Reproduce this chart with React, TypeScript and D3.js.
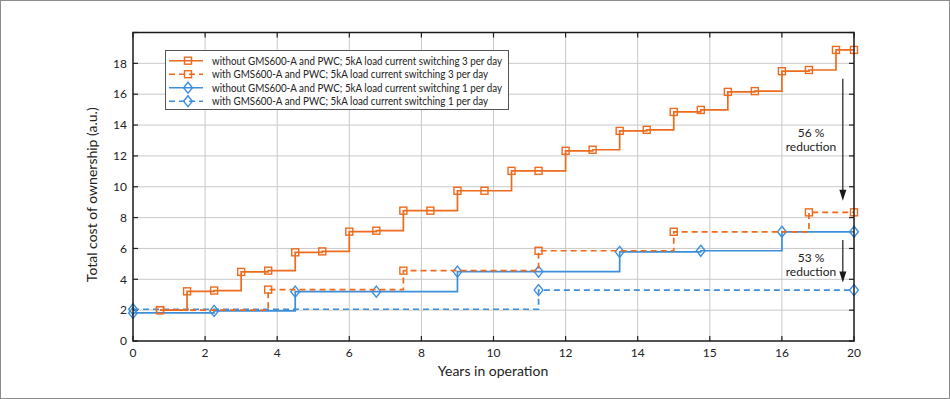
import React, { useRef, useEffect } from 'react';
import * as d3 from 'd3';

// x in years, y in a.u.
const orangeSolidX = [0.75, 1.5, 2.25, 3, 3.75, 4.5, 5.25, 6, 6.75, 7.5, 8.25, 9, 9.75, 10.5, 11.25, 12, 12.75, 13.5, 14.25, 15, 15.75, 16.5, 17.25, 18, 18.75, 19.5, 20];
const orangeSolidY = [2.0, 3.22, 3.27, 4.48, 4.56, 5.75, 5.81, 7.09, 7.15, 8.45, 8.45, 9.74, 9.74, 11.03, 11.03, 12.33, 12.4, 13.62, 13.69, 14.85, 14.98, 16.15, 16.2, 17.49, 17.57, 18.87, 18.87];

const orangeDashX = [0.75, 3.75, 7.5, 11.25, 15, 18.75, 20];
const orangeDashY = [2.0, 3.33, 4.56, 5.85, 7.08, 8.34, 8.34];

const blueSolidX = [0, 2.25, 4.5, 6.75, 9, 11.25, 13.5, 15.75, 18, 20];
const blueSolidY = [1.82, 1.95, 3.2, 3.2, 4.5, 4.5, 5.78, 5.85, 7.08, 7.08];

const blueDashX = [0, 11.25, 20];
const blueDashY = [2.06, 3.3, 3.3];

const xTickValues = [0, 2, 4, 6, 8, 10, 12, 14, 16, 18, 20];
const xTickLabels = ['0', '2', '4', '6', '8', '10', '12', '14', '15', '16', '20'];
const yTickValues = [0, 2, 4, 6, 8, 10, 12, 14, 16, 18];

const legendLabels = [
  'without GMS600-A and PWC; 5kA load current switching 3 per day',
  'with GMS600-A and PWC; 5kA load current switching 3 per day',
  'without GMS600-A and PWC; 5kA load current switching 1 per day',
  'with GMS600-A and PWC; 5kA load current switching 1 per day',
];
// rendered widths of the legend labels in the reference
const legendWidths = [290, 276, 290, 276];

const ORANGE = '#ee6a1c';
const BLUE = '#3d8fdb';
const FONT = 'Lato, "Noto Sans", sans-serif';

interface Series {
  xs: number[];
  ys: number[];
  color: string;
  dashed: boolean;
  marker: 'square' | 'diamond';
}

const series: Series[] = [
  { xs: orangeSolidX, ys: orangeSolidY, color: ORANGE, dashed: false, marker: 'square' },
  { xs: orangeDashX, ys: orangeDashY, color: ORANGE, dashed: true, marker: 'square' },
  { xs: blueSolidX, ys: blueSolidY, color: BLUE, dashed: false, marker: 'diamond' },
  { xs: blueDashX, ys: blueDashY, color: BLUE, dashed: true, marker: 'diamond' },
];

const App: React.FC = () => {
  const svgRef = useRef<SVGSVGElement>(null);
  const width = 950;
  const height = 399;

  useEffect(() => {
    document.body.style.margin = '0';
    if (!svgRef.current) return;
    const svg = d3.select(svgRef.current);
    svg.selectAll('*').remove();

    const x = d3.scaleLinear().domain([0, 20]).range([133, 854]);
    const y = d3.scaleLinear().domain([0, 20]).range([341, 32.5]);

    // outer frame
    svg.append('rect')
      .attr('x', 0.5).attr('y', 0.5)
      .attr('width', width - 1).attr('height', height - 1)
      .attr('fill', 'white').attr('stroke', '#8c8c8c');

    // grid
    const grid = svg.append('g');
    grid.selectAll('.vg').data(xTickValues.slice(1, -1)).enter().append('line')
      .attr('x1', d => x(d)).attr('x2', d => x(d))
      .attr('y1', y(20)).attr('y2', y(0))
      .attr('stroke', '#c9c9c9').attr('stroke-width', 1);
    grid.selectAll('.hg').data(d3.range(2, 20, 2)).enter().append('line')
      .attr('x1', x(0)).attr('x2', x(20))
      .attr('y1', d => y(d)).attr('y2', d => y(d))
      .attr('stroke', '#c9c9c9').attr('stroke-width', 1);

    // ticks (inward, all four sides)
    const tl = 5;
    const ticks = svg.append('g').attr('stroke', '#222').attr('stroke-width', 1.2);
    xTickValues.forEach(v => {
      ticks.append('line').attr('x1', x(v)).attr('x2', x(v)).attr('y1', y(0)).attr('y2', y(0) - tl);
      ticks.append('line').attr('x1', x(v)).attr('x2', x(v)).attr('y1', y(20)).attr('y2', y(20) + tl);
    });
    d3.range(0, 21, 2).forEach(v => {
      ticks.append('line').attr('x1', x(0)).attr('x2', x(0) + tl).attr('y1', y(v)).attr('y2', y(v));
      ticks.append('line').attr('x1', x(20)).attr('x2', x(20) - tl).attr('y1', y(v)).attr('y2', y(v));
    });

    // data lines
    const line = d3.line<[number, number]>()
      .x(d => x(d[0])).y(d => y(d[1]))
      .curve(d3.curveStepAfter);

    const drawMarker = (g: any, kind: string, cx: number, cy: number, color: string) => {
      if (kind === 'square') {
        g.append('rect')
          .attr('x', cx - 3.5).attr('y', cy - 3.5)
          .attr('width', 7).attr('height', 7)
          .attr('fill', 'none').attr('stroke', color).attr('stroke-width', 1.4);
      } else {
        const r = 5.5;
        g.append('path')
          .attr('d', `M${cx},${cy - r}L${cx + r * 0.8},${cy}L${cx},${cy + r}L${cx - r * 0.8},${cy}Z`)
          .attr('fill', 'none').attr('stroke', color).attr('stroke-width', 1.4);
      }
    };

    const dataG = svg.append('g');
    [...series].reverse().forEach(s => {
      const pts: [number, number][] = s.xs.map((v, i) => [v, s.ys[i]]);
      dataG.append('path')
        .attr('d', line(pts))
        .attr('fill', 'none')
        .attr('stroke', s.color)
        .attr('stroke-width', 1.7)
        .attr('stroke-dasharray', s.dashed ? '6,4' : null);
      const mg = dataG.append('g');
      pts.forEach(p => drawMarker(mg, s.marker, x(p[0]), y(p[1]), s.color));
    });

    // axis frame
    svg.append('rect')
      .attr('x', x(0)).attr('y', y(20))
      .attr('width', x(20) - x(0)).attr('height', y(0) - y(20))
      .attr('fill', 'none').attr('stroke', '#1a1a1a').attr('stroke-width', 1.5);

    // tick labels
    svg.append('g').selectAll('text').data(xTickValues).enter().append('text')
      .attr('x', d => x(d)).attr('y', y(0) + 16)
      .attr('text-anchor', 'middle')
      .style('font-family', FONT).style('font-size', '12px').style('fill', '#222')
      .text((d, i) => xTickLabels[i]);
    svg.append('g').selectAll('text').data(yTickValues).enter().append('text')
      .attr('x', x(0) - 6).attr('y', d => y(d))
      .attr('dy', '0.35em')
      .attr('text-anchor', 'end')
      .style('font-family', FONT).style('font-size', '12px').style('fill', '#222')
      .text(d => d);

    // axis titles
    svg.append('text')
      .attr('x', 493).attr('y', 376)
      .attr('text-anchor', 'middle')
      .style('font-family', FONT).style('font-size', '14px').style('fill', '#222')
      .text('Years in operation');
    svg.append('text')
      .attr('transform', `translate(97, ${(y(0) + y(20)) / 2 + 8}) rotate(-90)`)
      .attr('text-anchor', 'middle')
      .style('font-family', FONT).style('font-size', '14px').style('fill', '#222')
      .text('Total cost of ownership (a.u.)');

    // reduction arrows
    const arrowX = x(19.69);
    const arrows = [
      { from: 17.0, to: 9.1, pct: '56 %', ty: 133 },
      { from: 6.55, to: 3.8, pct: '53 %', ty: 258 },
    ];
    arrows.forEach(a => {
      const y1 = y(a.from);
      const y2 = y(a.to);
      svg.append('line')
        .attr('x1', arrowX).attr('x2', arrowX)
        .attr('y1', y1).attr('y2', y2 - 9)
        .attr('stroke', '#1a1a1a').attr('stroke-width', 1.2);
      svg.append('path')
        .attr('d', `M${arrowX - 3.5},${y2 - 11}L${arrowX + 3.5},${y2 - 11}L${arrowX},${y2}Z`)
        .attr('fill', '#1a1a1a');
      const t = svg.append('text')
        .attr('x', 811).attr('y', a.ty)
        .attr('text-anchor', 'middle')
        .style('font-family', FONT).style('font-size', '12px').style('fill', '#222');
      t.append('tspan').attr('x', 811).attr('dy', '0.35em').text(a.pct);
      t.append('tspan').attr('x', 811).attr('dy', '1.15em').text('reduction');
    });

    // legend
    const legend = svg.append('g');
    legend.append('rect')
      .attr('x', 165.5).attr('y', 50.5)
      .attr('width', 343).attr('height', 59)
      .attr('fill', 'white').attr('stroke', '#555').attr('stroke-width', 1);
    series.forEach((s, i) => {
      const ly = 60.7 + i * 13.5;
      legend.append('line')
        .attr('x1', 169).attr('x2', 203)
        .attr('y1', ly).attr('y2', ly)
        .attr('stroke', s.color).attr('stroke-width', 1.6)
        .attr('stroke-dasharray', s.dashed ? '6,4' : null);
      drawMarker(legend, s.marker, 188, ly, s.color);
      legend.append('text')
        .attr('x', 212).attr('y', ly)
        .attr('dy', '0.35em')
        .attr('textLength', legendWidths[i])
        .attr('lengthAdjust', 'spacingAndGlyphs')
        .style('font-family', FONT).style('font-size', '11.5px').style('fill', '#222')
        .text(legendLabels[i]);
    });
  }, []);

  return <svg ref={svgRef} width={width} height={height} style={{ display: 'block' }} />;
};

export default App;
